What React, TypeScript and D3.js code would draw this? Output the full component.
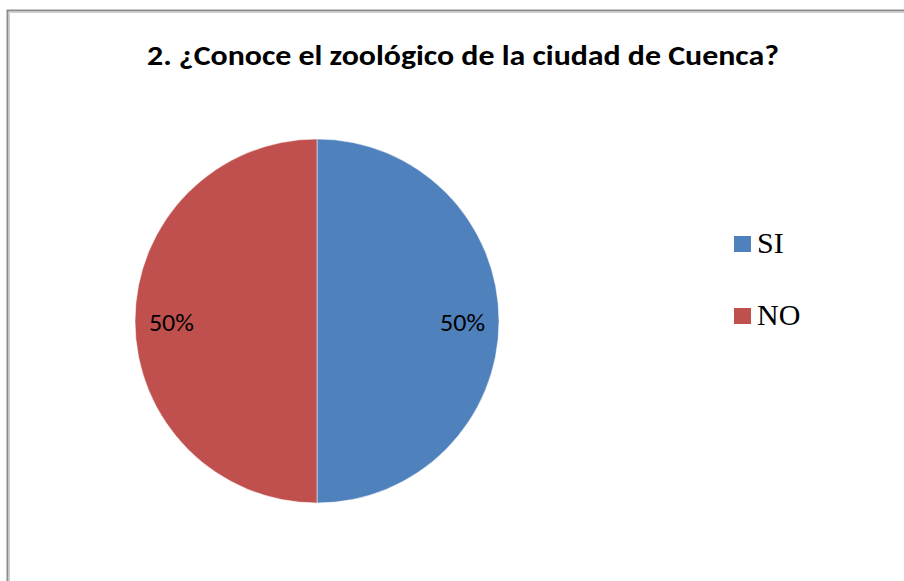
import React from "react";
import * as d3 from "d3";

const title = "2. ¿Conoce el zoológico de la ciudad de Cuenca?";
const categories = ["SI", "NO"];
const values = [50, 50];
const colors = ["#4F81BD", "#C0504D"];

export default function App() {
  const W = 904, H = 581;
  const cx = 317, cy = 321, r = 182;
  const pie = d3.pie<number>().sort(null).startAngle(0).endAngle(2 * Math.PI);
  const arcs = pie(values);
  const arc = d3.arc<d3.PieArcDatum<number>>().innerRadius(0).outerRadius(r);
  const labelArc = d3.arc<d3.PieArcDatum<number>>().innerRadius(r * 0.8).outerRadius(r * 0.8);
  const total = d3.sum(values);
  const fmt = d3.format(".0%");
  const legendY = d3.scalePoint<string>().domain(categories).range([244, 316]);
  return (
    <svg width={W} height={H} style={{ position: "absolute", left: 0, top: 0, background: "#fff" }}>
      <rect x={0} y={0} width={W} height={H} fill="#fff" />
      <path d={`M7.5,${H + 5} V10.5 H${W + 5}`} fill="none" stroke="#8c8c8c" strokeWidth={2} />
      <path d={`M9.5,${H + 5} V12.5 H${W + 5}`} fill="none" stroke="#d0d0d0" strokeWidth={1} />
      <text x={463} y={65} textAnchor="middle" fontFamily="Carlito, 'Open Sans', sans-serif" fontWeight="bold" fontSize={28} textLength={632} lengthAdjust="spacingAndGlyphs" fill="#000">{title}</text>
      <g transform={`translate(${cx},${cy})`}>
        {arcs.map((a, i) => (
          <path key={i} d={arc(a) || ""} fill={colors[i]} stroke="#ffffff" strokeWidth={0.5} />
        ))}
        {arcs.map((a, i) => {
          const [lx, ly] = labelArc.centroid(a);
          return (
            <text key={i} x={lx} y={ly + 10} textAnchor="middle" fontFamily="Carlito, 'Open Sans', sans-serif" fontSize={25} textLength={45} lengthAdjust="spacingAndGlyphs" fill="#000">{fmt(a.data / total)}</text>
          );
        })}
      </g>
      {categories.map((c, i) => (
        <g key={c} transform={`translate(0,${legendY(c)})`}>
          <rect x={734} y={-8} width={17} height={16} fill={colors[i]} />
          <text x={757} y={9} fontFamily="'Liberation Serif', 'Times New Roman', serif" fontSize={30} fill="#000">{c}</text>
        </g>
      ))}
    </svg>
  );
}
